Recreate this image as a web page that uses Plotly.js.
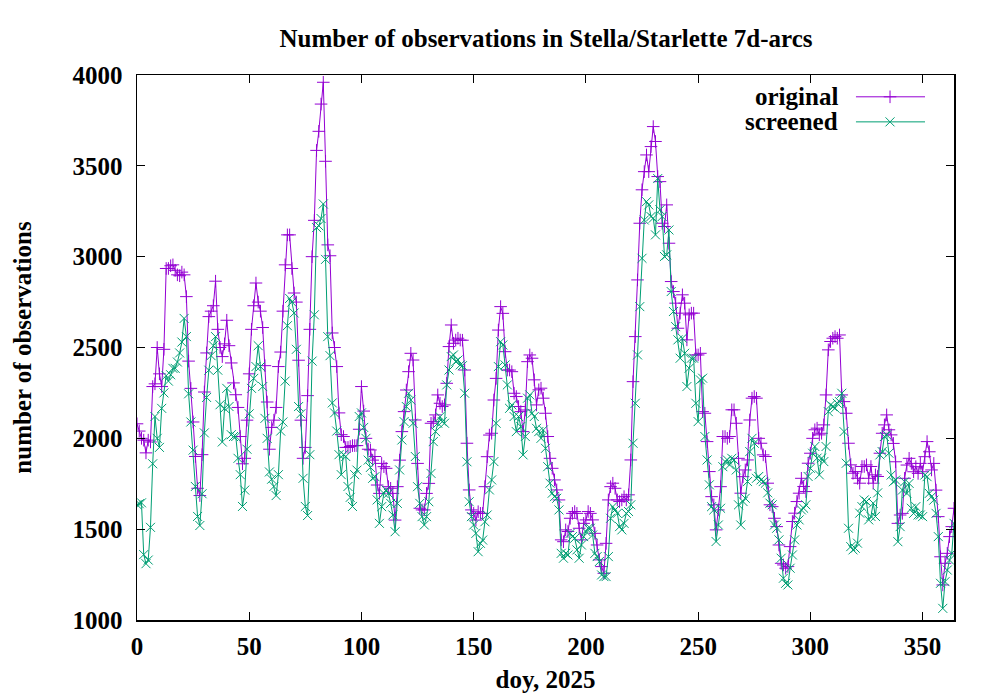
<!DOCTYPE html>
<html><head><meta charset="utf-8">
<script src="https://cdn.plot.ly/plotly-3.0.1.min.js"></script>
<style>html,body{margin:0;padding:0;background:#fff}#chart{width:1000px;height:700px}</style>
</head><body><div id="chart"></div>
<script>
// Number of observations per 7-day arc, day of year 0..364 (2025)
const original = [
  2080, 2040, 2000, 1990, 1920, 1990, 1980, 2285, 2300, 2500,
  2355, 2285, 2490, 2935, 2935, 2950, 2955, 2925, 2900, 2895,
  2915, 2900, 2780, 2425, 2275, 2090, 1900, 1725, 1685, 1910,
  2255, 2470, 2670, 2700, 2730, 2865, 2600, 2500, 2450, 2520,
  2650, 2510, 2415, 2305, 2240, 2170, 2010, 1860, 1890, 2100,
  2355, 2600, 2730, 2855, 2750, 2700, 2610, 2400, 2200, 1940,
  2060, 2100, 2170, 2395, 2475, 2700, 2955, 3120, 3120, 2935,
  2800, 2750, 2430, 2100, 1890, 1950, 2235, 2600, 3000, 3200,
  3585, 3690, 3840, 3960, 3525, 3065, 3005, 2580, 2500, 2395,
  2140, 2020, 2010, 1950, 1950, 1955, 1960, 1960, 1960, 2050,
  2285, 2150, 2000, 1940, 1936, 1880, 1900, 1743, 1697, 1862,
  1844, 1835, 1734, 1725, 1697, 1550, 1734, 1880, 2037, 2147,
  2266, 2367, 2468, 2431, 2101, 1862, 1615, 1606, 1606, 1697,
  1752, 2083, 2092, 2129, 2239, 2193, 2175, 2184, 2303, 2505,
  2624, 2523, 2541, 2551, 2541, 2540, 2376, 1973, 1716, 1606,
  1587, 1550, 1596, 1587, 1587, 1734, 1899, 2018, 2028, 2211,
  2330, 2596, 2725, 2688, 2477, 2376, 2376, 2367, 2248, 2230,
  2175, 2147, 2037, 2156, 2422, 2459, 2441, 2322, 2184, 2267,
  2276, 2221, 2138, 2010, 1890, 1835, 1771, 1716, 1661, 1441,
  1431, 1496, 1487, 1560, 1587, 1597, 1587, 1505, 1441, 1532,
  1551, 1597, 1587, 1551, 1477, 1413, 1331, 1294, 1257, 1422,
  1661, 1734, 1753, 1725, 1661, 1652, 1661, 1679, 1661, 1689,
  1881, 2312, 2560, 2872, 3184, 3368, 3468, 3560, 3468, 3606,
  3716, 3634, 3441, 3413, 3184, 3166, 3285, 3074, 2863, 2808,
  2744, 2606, 2689, 2790, 2744, 2542, 2680, 2689, 2689, 2459,
  2459, 2468, 2147, 2138, 1982, 1817, 1679, 1634, 1496, 1606,
  1734, 2010, 2010, 2000, 2010, 2157, 2157, 2083, 1890, 1698,
  1789, 1826, 1881, 2101, 2221, 2230, 2221, 2000, 1973, 1909,
  1900, 1753, 1634, 1624, 1560, 1514, 1413, 1312, 1303, 1285,
  1294, 1404, 1542, 1588, 1652, 1698, 1780, 1735, 1707, 1863,
  1918, 2000, 2047, 2056, 2019, 2028, 2074, 2239, 2487, 2533,
  2551, 2560, 2551, 2569, 2239, 2202, 2138, 1973, 1854, 1808,
  1817, 1780, 1753, 1845, 1845, 1854, 1780, 1845, 1753, 1799,
  1790, 1918, 2028, 2074, 2129, 2047, 2019, 1972, 1871, 1532,
  1578, 1587, 1780, 1853, 1890, 1862, 1816, 1844, 1807, 1862,
  1816, 1899, 1982, 1926, 1826, 1862, 1715, 1569, 1348, 1193,
  1312, 1367, 1459, 1514, 1615
];
const screened = [
  1635, 1640, 1645, 1360, 1310, 1330, 1510, 1860, 2120, 2000,
  1950, 2165, 2250, 2345, 2315, 2350, 2385, 2385, 2420, 2470,
  2530, 2660, 2560, 2245, 2090, 1935, 1735, 1570, 1520, 1695,
  2030, 2225, 2375, 2455, 2510, 2560, 2375, 2185, 1980, 2165,
  2275, 2175, 2020, 2010, 2010, 1890, 1800, 1625, 1715, 1940,
  2135, 2275, 2330, 2395, 2510, 2395, 2285, 2110, 2000, 1815,
  1775, 1735, 1685, 1800, 2040, 2090, 2315, 2620, 2770, 2750,
  2690, 2490, 2175, 2135, 1780, 1625, 1575, 1910, 2425, 2680,
  3160, 3170, 3210, 3290, 2985, 2560, 2455, 2195, 2140, 2040,
  1910, 1800, 1910, 1900, 1735, 1675, 1625, 1800, 1825, 2120,
  2140, 2060, 2000, 1880, 1840, 1780, 1789, 1661, 1532, 1624,
  1697, 1716, 1697, 1642, 1578, 1486, 1642, 1826, 1991, 2092,
  2175, 2248, 2211, 2083, 1900, 1734, 1642, 1569, 1523, 1569,
  1651, 1807, 1982, 2037, 2083, 2119, 2092, 2083, 2294, 2376,
  2450, 2459, 2422, 2431, 2404, 2400, 2248, 1871, 1651, 1569,
  1523, 1477, 1376, 1422, 1440, 1541, 1578, 1716, 1771, 1872,
  2083, 2395, 2532, 2514, 2404, 2294, 2165, 2184, 2120, 2037,
  2120, 2065, 1909, 2010, 2221, 2239, 2138, 2120, 2055, 2037,
  2000, 2046, 1945, 1844, 1753, 1698, 1679, 1670, 1606, 1367,
  1340, 1367, 1358, 1477, 1459, 1450, 1386, 1340, 1413, 1459,
  1487, 1505, 1505, 1468, 1367, 1349, 1322, 1248, 1239, 1239,
  1349, 1560, 1624, 1606, 1587, 1514, 1496, 1532, 1587, 1597,
  1634, 1973, 2193, 2459, 2725, 2991, 3202, 3303, 3285, 3221,
  3212, 3120, 3430, 3258, 3221, 3001, 3010, 3147, 2808, 2698,
  2615, 2542, 2441, 2551, 2468, 2285, 2386, 2441, 2441, 2193,
  2092, 2322, 2331, 2010, 1881, 1744, 1624, 1606, 1432, 1523,
  1615, 1844, 1872, 1881, 1854, 1890, 1881, 1826, 1634, 1523,
  1652, 1670, 1762, 1927, 2000, 1973, 1780, 1790, 1771, 1762,
  1753, 1700, 1643, 1634, 1523, 1505, 1441, 1340, 1230, 1202,
  1193, 1285, 1358, 1441, 1523, 1551, 1606, 1615, 1634, 1790,
  1835, 1918, 1955, 1891, 1799, 1891, 1872, 1955, 2147, 2184,
  2175, 2166, 2193, 2202, 2248, 2037, 1863, 1505, 1404, 1386,
  1395, 1423, 1588, 1624, 1661, 1652, 1551, 1570, 1643, 1570,
  1700, 1909, 1927, 2010, 2019, 1918, 1798, 1761, 1770, 1431,
  1514, 1715, 1761, 1697, 1752, 1615, 1587, 1624, 1578, 1578,
  1569, 1798, 1789, 1697, 1679, 1660, 1587, 1459, 1202, 1064,
  1211, 1275, 1330, 1367, 1532
];
const doy = original.map((_, i) => i);
const seriesNames = ['original', 'screened'];
const seriesColors = ['#9400D3', '#009E73'];
const seriesSymbols = ['cross-thin-open', 'x-thin-open'];
const xTickVals = [0, 50, 100, 150, 200, 250, 300, 350];
const yTickVals = [1000, 1500, 2000, 2500, 3000, 3500, 4000];
const chartTitle = 'Number of observations in Stella/Starlette 7d-arcs';
const xTitle = 'doy, 2025';
const yTitle = 'number of observations';

const FAM = '"Liberation Serif", "Times New Roman", serif';
const FS = 25;
const fnt = (s) => ({family: FAM, size: s, color: '#000', weight: 'bold'});

const series = [original, screened];
const traces = series.map((vals, i) => ({
  type: 'scatter', mode: 'lines+markers', x: doy, y: vals, name: seriesNames[i],
  line: {color: seriesColors[i], width: 1},
  marker: {symbol: seriesSymbols[i], size: 9, color: seriesColors[i], line: {color: seriesColors[i], width: 1}},
  showlegend: false, hoverinfo: 'skip'
}));

// gnuplot-style key: text on the left, sample on the right (drawn on a hidden 0..1 overlay axis)
const keyY = [0.960, 0.914];
const keyX0 = 0.880, keyX1 = 0.9645, keyXm = 0.9217, keyText = 0.8605;
const annotations = [];
seriesNames.forEach((nm, i) => {
  traces.push({type: 'scatter', mode: 'lines', x: [keyX0, keyX1], y: [keyY[i], keyY[i]],
    xaxis: 'x2', yaxis: 'y2', line: {color: seriesColors[i], width: 1}, showlegend: false, hoverinfo: 'skip'});
  traces.push({type: 'scatter', mode: 'markers', x: [keyXm], y: [keyY[i]], xaxis: 'x2', yaxis: 'y2',
    marker: {symbol: seriesSymbols[i], size: 9, color: seriesColors[i], line: {color: seriesColors[i], width: 1}},
    showlegend: false, hoverinfo: 'skip'});
  annotations.push({xref: 'paper', yref: 'paper', x: keyText, y: keyY[i], xanchor: 'right', yanchor: 'middle',
    text: nm, showarrow: false, font: fnt(FS)});
});

const axisCommon = {
  showline: true, linecolor: '#000', linewidth: 1.5, mirror: 'ticks',
  ticks: 'inside', ticklen: 8, tickwidth: 1, tickcolor: '#000',
  showgrid: false, zeroline: false, tickfont: fnt(FS), automargin: false
};

const layout = {
  width: 1000, height: 700,
  margin: {l: 137, r: 46, t: 75, b: 80},
  paper_bgcolor: '#fff', plot_bgcolor: '#fff',
  title: {text: chartTitle, font: fnt(FS), x: 0.546, xref: 'container', xanchor: 'center',
          y: 1 - 38 / 700, yref: 'container', yanchor: 'middle'},
  xaxis: Object.assign({}, axisCommon, {range: [0, 364], tickvals: xTickVals, ticklabelstandoff: 3,
          title: {text: xTitle, font: fnt(FS), standoff: 12}}),
  yaxis: Object.assign({}, axisCommon, {range: [1000, 4000], tickvals: yTickVals, ticklabelstandoff: 8,
          title: {text: yTitle, font: fnt(FS), standoff: 34}}),
  xaxis2: {overlaying: 'x', range: [0, 1], visible: false, anchor: 'y2', fixedrange: true},
  yaxis2: {overlaying: 'y', range: [0, 1], visible: false, anchor: 'x2', fixedrange: true},
  annotations: annotations,
  showlegend: false
};

Plotly.newPlot('chart', traces, layout, {staticPlot: true, displayModeBar: false});
</script>
</body></html>
